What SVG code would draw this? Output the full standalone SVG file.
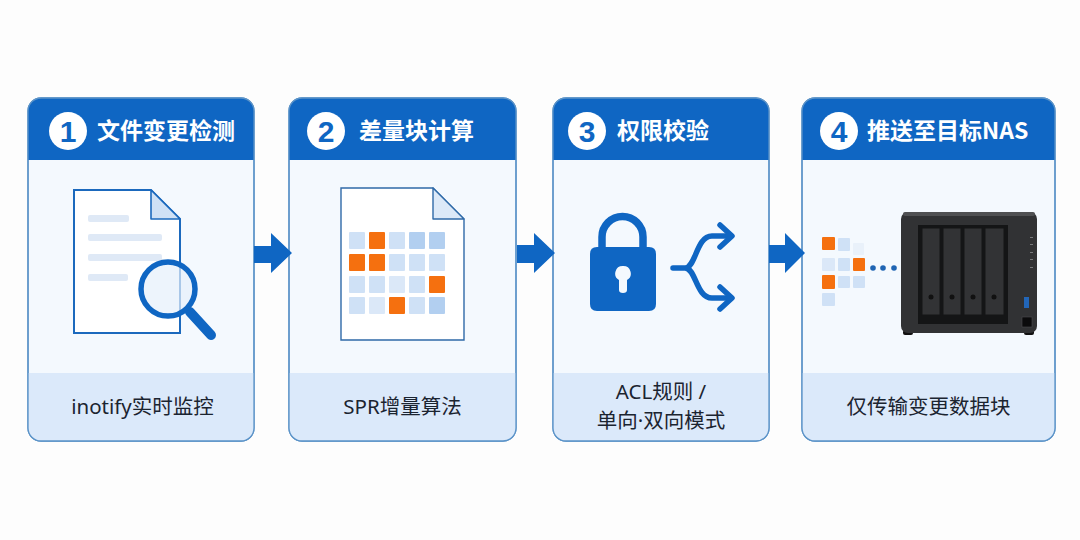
<svg xmlns="http://www.w3.org/2000/svg" width="1080" height="540" viewBox="0 0 1080 540">
<style>
.card{fill:#f4f9fe;stroke:#5b93c8;stroke-width:1.3}
.head{fill:#0f66c3}
.foot{fill:#dbe9fa}
.title{font:700 23px "Noto Sans CJK SC","Liberation Sans",sans-serif;fill:#fff}
.num{font:800 30px "Liberation Sans","Noto Sans",sans-serif;fill:#0f66c3;text-anchor:middle}
.cap{font:400 20.500px "Noto Sans","Noto Sans CJK SC",sans-serif;fill:#1b2430;text-anchor:middle}
.doc{fill:#fff;stroke:#1b69bd;stroke-width:2}
.docthin{fill:#fff;stroke:#2f6aa8;stroke-width:1.4}
.fold{fill:#cfe1f5;stroke:#1b69bd;stroke-width:1.6;stroke-linejoin:round}
.bar{fill:#dfe9f6}
.o{fill:#f5700f}.a{fill:#cfe1f6}.b{fill:#b2cff0}.c{fill:#dbe8f8}.d{fill:#e9f1fa}
.ln{fill:none;stroke:#0f66c3;stroke-width:5.5;stroke-linecap:round;stroke-linejoin:round}
.bay{fill:#323335;stroke:#151617;stroke-width:1}
</style>
<rect width="1080" height="540" fill="#fdfdfd"/>
<defs>
<clipPath id="c1"><rect x="28" y="98" width="226" height="343" rx="13"/></clipPath>
<clipPath id="c2"><rect x="289" y="98" width="227" height="343" rx="13"/></clipPath>
<clipPath id="c3"><rect x="553" y="98" width="216" height="343" rx="13"/></clipPath>
<clipPath id="c4"><rect x="802" y="98" width="253" height="343" rx="13"/></clipPath>
</defs>

<g id="node-1">
<rect class="card" x="28" y="98" width="226" height="343" rx="13"/>
<g clip-path="url(#c1)"><rect class="foot" x="28" y="373" width="226" height="68"/><rect class="head" x="28" y="98" width="226" height="62"/></g>
<rect x="28" y="98" width="226" height="343" rx="13" fill="none" stroke="#5b93c8" stroke-width="1.3"/>
<circle cx="68" cy="131" r="19" fill="#fff"/>
<text class="num" x="68" y="142">1</text>
<text class="title" x="97" y="139">文件变更检测</text>
<path class="doc" d="M74 190H151L180 219V333H74Z"/>
<path class="fold" d="M151 190V219H180Z"/>
<rect class="bar" x="88" y="215" width="41" height="7" rx="2"/>
<rect class="bar" x="88" y="234" width="74" height="7" rx="2"/>
<rect class="bar" x="88" y="254" width="74" height="7" rx="2"/>
<rect class="bar" x="88" y="274" width="40" height="7" rx="2"/>
<path d="M190 312L211 335" stroke="#0f66c3" stroke-width="10" stroke-linecap="round"/>
<circle cx="168" cy="289" r="27" fill="#e6f0fb" fill-opacity=".7" stroke="#0f66c3" stroke-width="5.500"/>
<text class="cap" x="142.500" y="414">inotify实时监控</text>
</g>

<g id="node-2">
<rect class="card" x="289" y="98" width="227" height="343" rx="13"/>
<g clip-path="url(#c2)"><rect class="foot" x="289" y="373" width="227" height="68"/><rect class="head" x="289" y="98" width="227" height="62"/></g>
<rect x="289" y="98" width="227" height="343" rx="13" fill="none" stroke="#5b93c8" stroke-width="1.3"/>
<circle cx="326" cy="131" r="19" fill="#fff"/>
<text class="num" x="326" y="142">2</text>
<text class="title" x="359" y="139">差量块计算</text>
<path class="docthin" d="M341 188H433L464 219V340H341Z"/>
<path d="M433 188V219H464Z" fill="#dce9f8" stroke="#2f6aa8" stroke-width="1.4" stroke-linejoin="round"/>
<g>
<rect class="a" x="349" y="232" width="16" height="17" rx="1"/><rect class="o" x="369" y="232" width="16" height="17" rx="1"/><rect class="a" x="389" y="232" width="16" height="17" rx="1"/><rect class="b" x="409" y="232" width="16" height="17" rx="1"/><rect class="b" x="429" y="232" width="16" height="17" rx="1"/>
<rect class="o" x="349" y="254" width="16" height="17" rx="1"/><rect class="o" x="369" y="254" width="16" height="17" rx="1"/><rect class="a" x="389" y="254" width="16" height="17" rx="1"/><rect class="a" x="409" y="254" width="16" height="17" rx="1"/><rect class="a" x="429" y="254" width="16" height="17" rx="1"/>
<rect class="a" x="349" y="276" width="16" height="17" rx="1"/><rect class="a" x="369" y="276" width="16" height="17" rx="1"/><rect class="c" x="389" y="276" width="16" height="17" rx="1"/><rect class="a" x="409" y="276" width="16" height="17" rx="1"/><rect class="o" x="429" y="276" width="16" height="17" rx="1"/>
<rect class="a" x="349" y="297" width="16" height="17" rx="1"/><rect class="c" x="369" y="297" width="16" height="17" rx="1"/><rect class="o" x="389" y="297" width="16" height="17" rx="1"/><rect class="a" x="409" y="297" width="16" height="17" rx="1"/><rect class="b" x="429" y="297" width="16" height="17" rx="1"/>
</g>
<text class="cap" x="402.500" y="414">SPR增量算法</text>
</g>

<g id="node-3">
<rect class="card" x="553" y="98" width="216" height="343" rx="13"/>
<g clip-path="url(#c3)"><rect class="foot" x="553" y="373" width="216" height="68"/><rect class="head" x="553" y="98" width="216" height="62"/></g>
<rect x="553" y="98" width="216" height="343" rx="13" fill="none" stroke="#5b93c8" stroke-width="1.3"/>
<circle cx="587" cy="131" r="19" fill="#fff"/>
<text class="num" x="587" y="142">3</text>
<text class="title" x="617" y="139">权限校验</text>
<path d="M602 250V237A20.500 20.500 0 0 1 643 237V250" fill="none" stroke="#0f66c3" stroke-width="7.500"/>
<path fill-rule="evenodd" fill="#0f66c3" d="M597 247H649Q656 247 656 254V304Q656 311 649 311H597Q590 311 590 304V254Q590 247 597 247ZM623 266A7.500 7.500 0 0 0 619 280V290Q619 293 623 293Q627 293 627 290V280A7.500 7.500 0 0 0 623 266Z"/>
<path class="ln" d="M673 268H685C696 268 696 236 712 236H731M685 268C696 268 696 298 712 298H731"/>
<path class="ln" d="M720 225L732 236L720 247M720 287L732 298L720 309"/>
<text class="cap" x="661" y="399">ACL规则 /</text>
<text class="cap" x="661" y="428">单向·双向模式</text>
</g>

<g id="node-4">
<rect class="card" x="802" y="98" width="253" height="343" rx="13"/>
<g clip-path="url(#c4)"><rect class="foot" x="802" y="373" width="253" height="68"/><rect class="head" x="802" y="98" width="253" height="62"/></g>
<rect x="802" y="98" width="253" height="343" rx="13" fill="none" stroke="#5b93c8" stroke-width="1.3"/>
<circle cx="839" cy="131" r="19" fill="#fff"/>
<text class="num" x="839" y="142">4</text>
<text class="title" x="867" y="139">推送至目标NAS</text>
<rect class="o" x="822" y="237" width="13" height="13" rx="1"/><rect class="a" x="838" y="238" width="12" height="13" rx="1"/><rect class="d" x="853" y="243" width="11" height="12" rx="1"/>
<rect class="c" x="822" y="258" width="13" height="13" rx="1"/><rect class="a" x="838" y="258" width="12" height="13" rx="1"/><rect class="o" x="853" y="258" width="12" height="13" rx="1"/>
<rect class="o" x="822" y="275" width="13" height="14" rx="1"/><rect class="a" x="838" y="276" width="12" height="12" rx="1"/><rect class="a" x="853" y="276" width="12" height="12" rx="1"/>
<rect class="a" x="822" y="293" width="13" height="13" rx="1"/>
<circle cx="873" cy="268" r="2.800" fill="#1f65b3"/><circle cx="883" cy="268" r="2.800" fill="#1f65b3"/><circle cx="894" cy="268" r="2.800" fill="#1f65b3"/>
<rect x="903" y="330" width="10" height="5" rx="2" fill="#111"/><rect x="1024" y="330" width="10" height="5" rx="2" fill="#111"/>
<rect x="901" y="212" width="136" height="121" rx="7" fill="#313234"/>
<rect x="903" y="212" width="132" height="4" rx="2" fill="#4f5052"/>
<rect x="918" y="225" width="90" height="99" fill="#141516"/>
<rect class="bay" x="922" y="228" width="18" height="87"/><rect class="bay" x="943" y="228" width="18" height="87"/><rect class="bay" x="964" y="228" width="18" height="87"/><rect class="bay" x="985" y="228" width="19" height="87"/>
<circle cx="931" cy="297" r="2.500" fill="#111"/><circle cx="952" cy="297" r="2.500" fill="#111"/><circle cx="973" cy="297" r="2.500" fill="#111"/><circle cx="994" cy="297" r="2.500" fill="#111"/>
<g fill="#77797b"><rect x="1030" y="237" width="3" height="1"/><rect x="1030" y="244" width="3" height="1"/><rect x="1030" y="252" width="3" height="1"/><rect x="1030" y="259" width="3" height="1"/><rect x="1030" y="267" width="3" height="1"/></g>
<rect x="1024" y="297" width="5" height="11" fill="#2266b8"/>
<rect x="1022" y="317" width="10" height="10" fill="#0b0b0c" stroke="#4a4b4d" stroke-width=".6"/>
<text class="cap" x="928.500" y="414">仅传输变更数据块</text>
</g>

<g id="connectors" fill="#0f66c3">
<path d="M254 246H271V233L292 253L271 273V263H254Z"/>
<path d="M517 245H534V233L555 253L534 273V263H517Z"/>
<path d="M769 245H785V233L805 253L785 273V263H769Z"/>
</g>
</svg>
